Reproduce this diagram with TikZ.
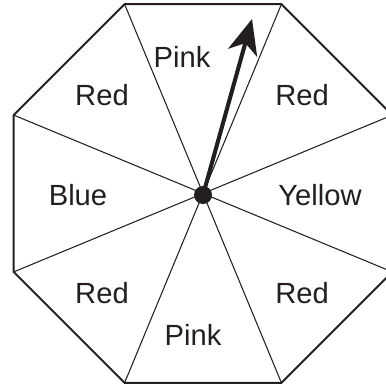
\documentclass[tikz,border=0pt]{standalone}
\usepackage{fontspec}
\setmainfont{Liberation Sans}
\usepackage{tikz}
\usetikzlibrary{shapes.geometric,arrows.meta}
\definecolor{ink}{HTML}{231F20}

\begin{document}
\begin{tikzpicture}[every node/.style={font=\fontsize{16.6}{19}\selectfont, text=ink}]
    \useasboundingbox (0,0) rectangle (7.72,7.70);
    % Octagon outline
    \node[draw=ink, line width=1.1pt, regular polygon, regular polygon sides=8, minimum size=8.2cm, inner sep=0pt, outer sep=0pt] (dial) at (4.06,3.83) {};
    % Spokes to the corners
    \foreach \k in {1,...,8} {
        \draw[ink, line width=0.6pt] (dial.center) -- (dial.corner \k);
    }
    % Sector labels
    \foreach \i/\x/\y/\val in {1/3.64/6.56/Pink, 2/2.04/5.80/Red, 3/6.04/5.80/Red, 4/1.56/3.80/Blue, 5/6.40/3.80/Yellow, 6/2.04/1.84/Red, 7/6.04/1.84/Red, 8/3.86/1.00/Pink} {
        \node (sector\i) at (\x,\y) {\val};
    }
    % Pointer
    \node[circle, fill=ink, minimum size=0.36cm, inner sep=0pt] (hub) at (4.06,3.80) {};
    \coordinate (tip) at (5.04,7.32);
    \draw[ink, line width=2.3pt, -{Stealth[length=0.7cm, width=0.6cm, inset=0.2cm]}] (hub.center) -- (tip);
\end{tikzpicture}
\end{document}
